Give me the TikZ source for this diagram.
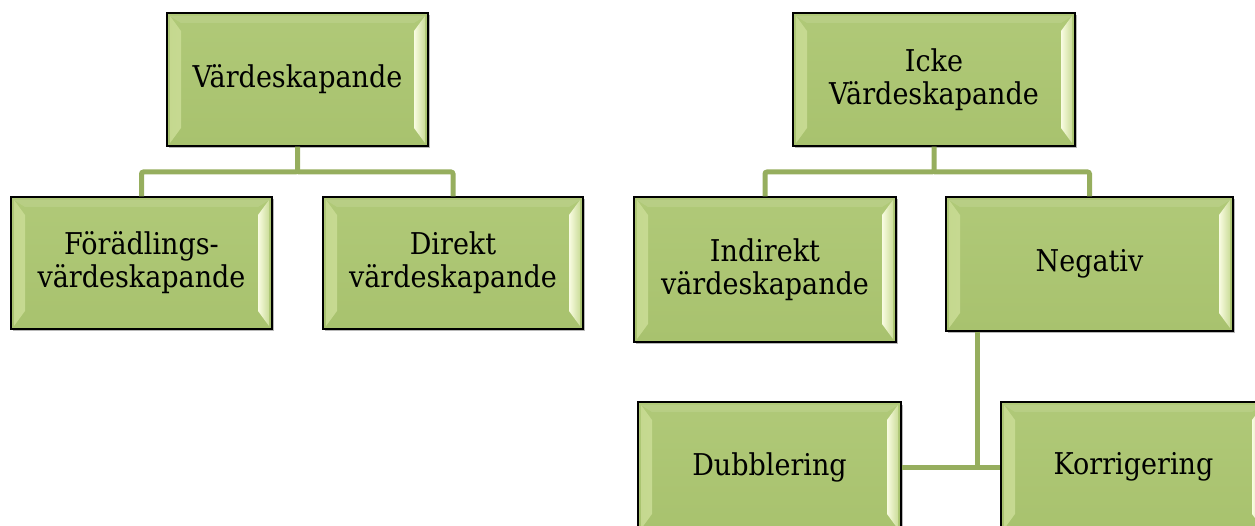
\documentclass[tikz,border=0pt]{standalone}
\usepackage{fontspec}
\setmainfont{DejaVu Serif}[FakeStretch=0.9]
\usetikzlibrary{shadows}
\definecolor{boxtop}{RGB}{176,201,120}
\definecolor{boxbot}{RGB}{168,194,110}
\definecolor{bevout}{RGB}{196,216,142}
\definecolor{bevin}{RGB}{242,247,212}
\definecolor{bevinR}{RGB}{249,252,226}
\definecolor{bevoutR}{RGB}{204,221,154}
\definecolor{conn}{RGB}{150,174,94}
\tikzset{
  boxnode/.style={draw=black, line width=1.3pt, top color=boxtop, bottom color=boxbot,
    align=center, inner sep=0pt, font=\fontsize{30}{33}\selectfont,
    drop shadow={shadow xshift=1.5pt, shadow yshift=-2.5pt, fill=black, opacity=0.28},
    path picture={
      \shade[left color=bevout, right color=bevin]
        ([shift={(3pt,-3pt)}]path picture bounding box.north west) --
        ([shift={(14pt,-18pt)}]path picture bounding box.north west) --
        ([shift={(14pt,18pt)}]path picture bounding box.south west) --
        ([shift={(3pt,3pt)}]path picture bounding box.south west) -- cycle;
      \shade[left color=bevinR, right color=bevoutR]
        ([shift={(-3pt,-3pt)}]path picture bounding box.north east) --
        ([shift={(-14pt,-18pt)}]path picture bounding box.north east) --
        ([shift={(-14pt,18pt)}]path picture bounding box.south east) --
        ([shift={(-3pt,3pt)}]path picture bounding box.south east) -- cycle;
      \fill[white, opacity=0.1]
        ([shift={(3pt,-3pt)}]path picture bounding box.north west) --
        ([shift={(-3pt,-3pt)}]path picture bounding box.north east) --
        ([shift={(-14pt,-10pt)}]path picture bounding box.north east) --
        ([shift={(14pt,-10pt)}]path picture bounding box.north west) -- cycle;
    }},
  connline/.style={draw=conn, line width=5pt, rounded corners=2pt}
}
\begin{document}
\begin{tikzpicture}[x=1pt, y=-1pt]
\useasboundingbox (0,0) rectangle (1255,526);
\clip (0,0) rectangle (1255,526);
\node[boxnode, minimum width=261pt, minimum height=133pt] (v) at (297.5,79.5) {Värdeskapande};
\node[boxnode, minimum width=282pt, minimum height=133pt] (i) at (934,79.5) {Icke\\Värdeskapande};
\node[boxnode, minimum width=261pt, minimum height=132pt] (f) at (141.5,263) {Förädlings-\\värdeskapande};
\node[boxnode, minimum width=260pt, minimum height=132pt] (d) at (453,263) {Direkt\\värdeskapande};
\node[boxnode, minimum width=262pt, minimum height=145pt] (ind) at (765,269.5) {Indirekt\\värdeskapande};
\node[boxnode, minimum width=287pt, minimum height=134pt] (n) at (1089.5,264) {Negativ};
\node[boxnode, minimum width=263pt, minimum height=130pt] (db) at (769.5,467) {Dubblering};
\node[boxnode, minimum width=265pt, minimum height=130pt] (kr) at (1133.5,467) {Korrigering};
\coordinate (vj) at (297.5,172);
\coordinate (ij) at (934,172);
\coordinate (nj) at (977,467);
\draw[connline] (v.south) -- (vj) -| (f.north);
\draw[connline] (vj) -| (d.north);
\draw[connline] (i.south) -- (ij) -| (ind.north);
\draw[connline] (ij) -| (n.north);
\draw[connline] (n.south -| nj) -- (nj);
\draw[connline] (nj) -- (db.east);
\draw[connline] (nj) -- (kr.west);
\end{tikzpicture}
\end{document}
